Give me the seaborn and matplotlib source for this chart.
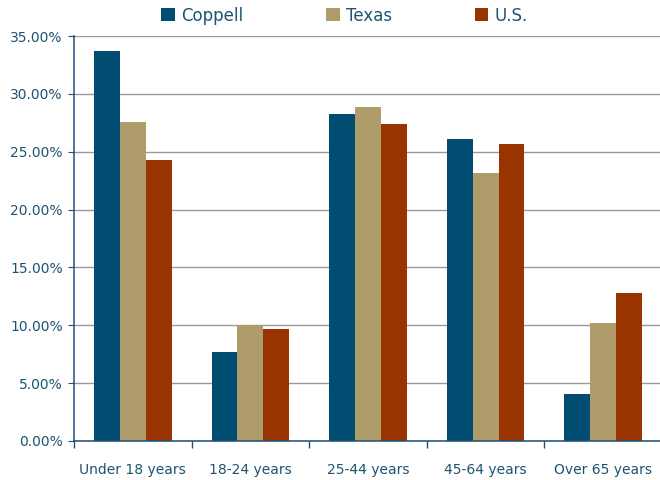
import numpy as np
import pandas as pd
import matplotlib
matplotlib.use('Agg')
import matplotlib.pyplot as plt
import seaborn as sns
from matplotlib.ticker import FuncFormatter, FixedLocator

# values (percent)
age_groups = ['Under 18 years', '18-24 years', '25-44 years', '45-64 years', 'Over 65 years']
coppell = [33.70, 7.69, 28.26, 26.10, 4.06]
texas = [27.57, 10.02, 28.87, 23.16, 10.20]
us = [24.29, 9.68, 27.40, 25.67, 12.79]
areas = ['Coppell', 'Texas', 'U.S.']
colors = ['#004d71', '#ae9d6b', '#993300']

df = pd.DataFrame({
    'age': age_groups * 3,
    'pct': coppell + texas + us,
    'area': sum([[a] * len(age_groups) for a in areas], []),
})

sns.set_style('white')
plt.rcParams['font.family'] = ['DejaVu Sans']
txt = '#1d5472'
spine_col = '#1f4e79'

fig = plt.figure(figsize=(6.6, 4.8), dpi=100)
ax = fig.add_axes([74 / 660, 39 / 480, 588 / 660, 405 / 480])

sns.barplot(data=df, x='age', y='pct', hue='area', palette=colors,
            width=0.66, gap=0, saturation=1, linewidth=0, ax=ax, legend=True)

ax.set_ylim(0, 35)
ax.set_xlim(-0.5, 4.5)
ax.set_yticks(np.arange(0, 35.01, 5))
ax.yaxis.set_major_formatter(FuncFormatter(lambda v, p: f'{v:.2f}%'))
ax.grid(axis='y', color='#9a9a9a', lw=1.0)
ax.set_axisbelow(True)
ax.set_xlabel('')
ax.set_ylabel('')

for s in ['top', 'right']:
    ax.spines[s].set_visible(False)
for s in ['left', 'bottom']:
    ax.spines[s].set_color(spine_col)
    ax.spines[s].set_linewidth(1.1)

ax.tick_params(axis='y', left=True, length=4, color=spine_col, labelsize=10, labelcolor=txt, pad=4)
ax.tick_params(axis='x', which='major', bottom=False, labelsize=10, labelcolor=txt, pad=12)
ax.xaxis.set_minor_locator(FixedLocator(np.arange(-0.5, 4.6, 1)))
ax.tick_params(axis='x', which='minor', bottom=True, length=5, color=spine_col, width=1)

handles, labels = ax.get_legend_handles_labels()
ax.legend(handles, labels, loc='center', bbox_to_anchor=(0.46, 1.0506),
          ncol=3, frameon=False, fontsize=12, labelcolor=txt,
          handlelength=0.8, handleheight=0.8, handletextpad=0.36,
          columnspacing=5.0)

fig.savefig('out.png', dpi=100)
